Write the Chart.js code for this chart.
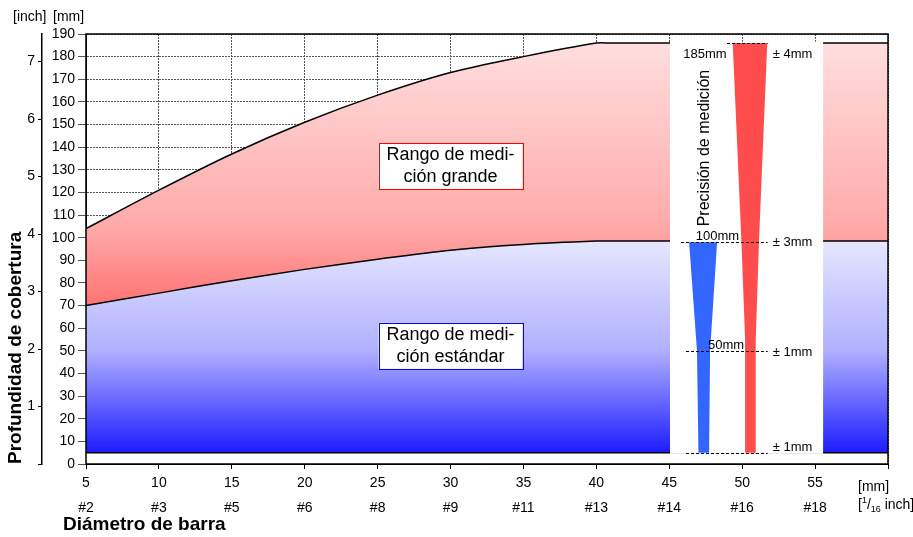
<!DOCTYPE html>
<html>
<head>
<meta charset="utf-8">
<script src="https://cdn.jsdelivr.net/npm/chart.js@4.4.1/dist/chart.umd.min.js"></script>
<style>
  html, body { margin: 0; padding: 0; background: #fff; }
  canvas { display: block; }
</style>
</head>
<body>
<canvas id="coverChart" width="913" height="537"></canvas>
<script>
// bar diameter [mm] and the cover depth limits [mm]
const diameterMm = [5, 10, 15, 20, 25, 30, 35, 40, 41, 60];
const standardDepth = [70, 75.5, 81, 86, 90.5, 94.5, 97, 98.5, 98.5, 98.5];
const largeDepth = [104, 121, 137, 151, 163, 173, 180, 186, 186, 186];
const minDepth = [5, 5, 5, 5, 5, 5, 5, 5, 5, 5];

const mmTicks = [5, 10, 15, 20, 25, 30, 35, 40, 45, 50, 55];
const barSizes = ['#2', '#3', '#5', '#6', '#8', '#9', '#11', '#13', '#14', '#16', '#18'];

// precision scale
const precisionDepth = [186, 98, 50, 5];
const precisionDepthLabels = ['185mm', '100mm', '50mm'];
const precisionTolerance = ['± 4mm', '± 3mm', '± 1mm', '± 1mm'];

const largeWedgeDepth = [186, 98, 55, 5];
const largeWedgeLeft = [49.35, 49.95, 50.2, 50.2];
const largeWedgeRight = [51.72, 51.15, 50.93, 50.93];
const standardWedgeDepth = [98, 50, 5];
const standardWedgeLeft = [46.36, 46.9, 47.0];
const standardWedgeRight = [48.28, 47.8, 47.73];

const FONT = "'Liberation Sans', Arial, sans-serif";
Chart.defaults.font.family = FONT;
Chart.defaults.color = '#000';

const toPoints = (xs, ys) => xs.map((v, i) => ({ x: v, y: ys[i] }));

function verticalGradient(chart, stops) {
  const { ctx, chartArea, scales } = chart;
  if (!chartArea) return null;
  const y0 = scales.y.getPixelForValue(stops[0][0]);
  const y1 = scales.y.getPixelForValue(stops[stops.length - 1][0]);
  const g = ctx.createLinearGradient(0, y0, 0, y1);
  stops.forEach(([v, c]) => {
    g.addColorStop((scales.y.getPixelForValue(v) - y0) / (y1 - y0), c);
  });
  return g;
}

function drawWedge(ctx, px, py, depth, left, right, color) {
  ctx.beginPath();
  depth.forEach((d, i) => {
    if (i === 0) ctx.moveTo(px(left[i]), py(d));
    else ctx.lineTo(px(left[i]), py(d));
  });
  for (let i = depth.length - 1; i >= 0; i--) ctx.lineTo(px(right[i]), py(depth[i]));
  ctx.closePath();
  ctx.fillStyle = color;
  ctx.fill();
}

function drawLabelBox(ctx, cx, cy, lines, color) {
  const w = 144, h = 46;
  ctx.fillStyle = '#fff';
  ctx.fillRect(cx - w / 2, cy - h / 2, w, h);
  ctx.strokeStyle = color;
  ctx.lineWidth = 1;
  ctx.strokeRect(Math.round(cx - w / 2) + 0.5, Math.round(cy - h / 2) + 0.5, w, h);
  ctx.fillStyle = '#000';
  ctx.font = `18px ${FONT}`;
  ctx.textAlign = 'center';
  ctx.textBaseline = 'middle';
  ctx.fillText(lines[0], cx, cy - 11);
  ctx.fillText(lines[1], cx, cy + 11);
}

const overlayPlugin = {
  id: 'overlay',
  afterDatasetsDraw(chart) {
    const { ctx, chartArea: area, scales: { x, y } } = chart;
    const px = (v) => x.getPixelForValue(v);
    const py = (v) => y.getPixelForValue(v);
    ctx.save();

    // white panel holding the precision scale
    ctx.fillStyle = '#fff';
    ctx.fillRect(px(45.05), py(186.6), px(55.55) - px(45.05), py(4.5) - py(186.6));

    drawWedge(ctx, px, py, largeWedgeDepth, largeWedgeLeft, largeWedgeRight, '#ff4d4d');
    drawWedge(ctx, px, py, standardWedgeDepth, standardWedgeLeft, standardWedgeRight, '#3366ff');

    const lineStart = [48.96, 45.8, 46.15, 46.15];
    ctx.strokeStyle = '#000';
    ctx.lineWidth = 1;
    ctx.setLineDash([3, 2]);
    precisionDepth.forEach((d, i) => {
      const yy = Math.round(py(d)) + 0.5;
      ctx.beginPath();
      ctx.moveTo(px(lineStart[i]), yy);
      ctx.lineTo(px(51.75), yy);
      ctx.stroke();
    });
    ctx.setLineDash([]);

    ctx.fillStyle = '#000';
    ctx.font = `13px ${FONT}`;
    ctx.textAlign = 'center';
    ctx.textBaseline = 'top';
    ctx.fillText(precisionDepthLabels[0], px(47.45), py(precisionDepth[0]) + 5);
    ctx.textBaseline = 'bottom';
    ctx.fillText(precisionDepthLabels[1], px(48.3), py(precisionDepth[1]) + 1);
    ctx.fillText(precisionDepthLabels[2], px(48.9), py(precisionDepth[2]) + 1);

    const tolOffset = [11, 0, 2, -5];
    ctx.textAlign = 'left';
    ctx.textBaseline = 'middle';
    precisionTolerance.forEach((t, i) => {
      ctx.fillText(t, px(52.1), py(precisionDepth[i]) + tolOffset[i]);
    });

    ctx.save();
    ctx.translate(px(47.4), py(139.6));
    ctx.rotate(-Math.PI / 2);
    ctx.font = `16px ${FONT}`;
    ctx.textAlign = 'center';
    ctx.fillText('Precisión de medición', 0, 0);
    ctx.restore();

    drawLabelBox(ctx, px(30), py(131.7), ['Rango de medi-', 'ción grande'], '#ff0000');
    drawLabelBox(ctx, px(30), py(52.2), ['Rango de medi-', 'ción estándar'], '#0000ff');

    // plot frame
    ctx.strokeStyle = '#000';
    ctx.lineWidth = 1.5;
    ctx.strokeRect(area.left, area.top, area.width, area.height);

    // unit labels
    ctx.font = `14px ${FONT}`;
    ctx.textAlign = 'left';
    ctx.textBaseline = 'middle';
    ctx.fillText('[inch]', 13, 17);
    ctx.fillText('[mm]', 53, 17);
    ctx.fillText('[mm]', 858, 487);

    let cx = 858;
    const cy = 505;
    ctx.fillText('[', cx, cy); cx += ctx.measureText('[').width;
    ctx.font = `9px ${FONT}`;
    ctx.fillText('1', cx, cy - 4); cx += ctx.measureText('1').width;
    ctx.font = `14px ${FONT}`;
    ctx.fillText('/', cx, cy); cx += ctx.measureText('/').width;
    ctx.font = `9px ${FONT}`;
    ctx.fillText('16', cx, cy + 5); cx += ctx.measureText('16').width;
    ctx.font = `14px ${FONT}`;
    ctx.fillText(' inch]', cx, cy);

    ctx.font = `bold 19px ${FONT}`;
    ctx.fillText('Diámetro de barra', 63, 525);
    ctx.restore();
  }
};

new Chart(document.getElementById('coverChart'), {
  type: 'line',
  data: {
    datasets: [
      {
        data: toPoints(diameterMm, minDepth),
        borderColor: '#000',
        borderWidth: 1.5,
        backgroundColor: '#fff',
        fill: 'origin',
        pointRadius: 0
      },
      {
        data: toPoints(diameterMm, standardDepth),
        borderColor: '#000',
        borderWidth: 1.5,
        backgroundColor: (c) => verticalGradient(c.chart, [[98.5, '#e6e6ff'], [50, '#b0b0ff'], [5, '#1c1cff']]),
        fill: '-1',
        pointRadius: 0,
        tension: 0.3
      },
      {
        data: toPoints(diameterMm, largeDepth),
        borderColor: '#000',
        borderWidth: 1.5,
        backgroundColor: (c) => verticalGradient(c.chart, [[186, '#ffdede'], [105, '#ffaaaa'], [70, '#ff7373']]),
        fill: '-1',
        pointRadius: 0,
        tension: 0.3
      }
    ]
  },
  options: {
    responsive: false,
    animation: false,
    devicePixelRatio: 1,
    layout: { padding: { top: 34, right: 25, left: 0, bottom: 0 } },
    plugins: { legend: { display: false }, tooltip: { enabled: false } },
    scales: {
      x: {
        type: 'linear',
        min: 5,
        max: 60,
        ticks: {
          stepSize: 5,
          padding: 2,
          maxRotation: 0,
          font: { size: 14, lineHeight: 1.75 },
          callback: (value) => {
            const i = mmTicks.indexOf(value);
            return i < 0 ? '' : [String(value), barSizes[i]];
          }
        },
        grid: { color: '#555', tickLength: 5, tickColor: '#000' },
        border: { dash: [2, 1], color: '#000' },
        afterFit: (s) => { s.height = 73; }
      },
      y: {
        position: 'left',
        weight: 0,
        min: 0,
        max: 190,
        ticks: { stepSize: 10, padding: 3, font: { size: 14 } },
        grid: { color: '#555', tickLength: 8 },
        border: { dash: [2, 1], color: '#000' },
        afterFit: (s) => { s.width = 44; }
      },
      yin: {
        position: 'left',
        weight: 1,
        min: 0,
        max: 190 / 25.4,
        ticks: {
          stepSize: 1,
          includeBounds: false,
          padding: 3,
          font: { size: 14 },
          callback: (v) => (v === 0 ? '' : v)
        },
        grid: { drawOnChartArea: false, color: '#000', tickLength: 4 },
        border: { color: '#000', width: 1.5 },
        title: {
          display: true,
          text: 'Profundidad de cobertura',
          align: 'start',
          font: { size: 19, weight: 'bold' },
          padding: { top: 4, bottom: 0 }
        },
        afterFit: (s) => { s.width = 42; }
      }
    }
  },
  plugins: [overlayPlugin]
});
</script>
</body>
</html>
